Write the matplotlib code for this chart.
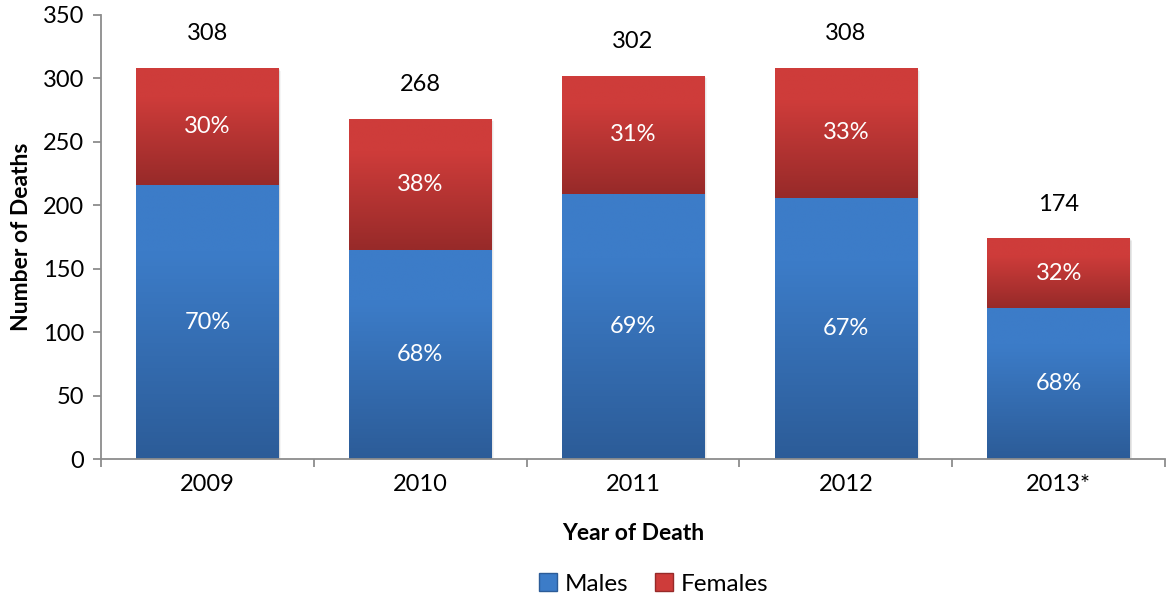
import matplotlib.pyplot as plt
import matplotlib.colors as mcolors
from matplotlib.patches import Patch
import numpy as np

plt.rcParams['font.family'] = ['Lato', 'DejaVu Sans']

# data
years = ['2009', '2010', '2011', '2012', '2013*']
totals = [308, 268, 302, 308, 174]
males = [216, 165, 209, 206, 119]
females = [t - m for t, m in zip(totals, males)]
male_pct = ['70%', '68%', '69%', '67%', '68%']
female_pct = ['30%', '38%', '31%', '33%', '32%']

blue_top, blue_bot = '#3C7CC8', '#2C5C98'
red_top, red_bot = '#CE3C3A', '#972A29'
fs = 17


def gradient(top, bot, n=100):
    t = np.array(mcolors.to_rgb(top))
    b = np.array(mcolors.to_rgb(bot))
    s = np.linspace(0, 1, n)
    # flat at the top, then darker toward the bottom
    w = np.clip((s - 0.25) / 0.75, 0, 1)
    return np.array([[t * (1 - k) + b * k] for k in w])


fig = plt.figure(figsize=(11.67, 5.97), dpi=100)
ax = fig.add_axes([0.0866, 0.231, 0.9117, 0.744])

x = np.arange(len(years))
width = 0.67
bm = ax.bar(x, males, width, color='none', label='Males')
bf = ax.bar(x, females, width, bottom=males, color='none', label='Females')

for bars, top, bot in [(bm, blue_top, blue_bot), (bf, red_top, red_bot)]:
    for b in bars:
        x0, y0 = b.get_x(), b.get_y()
        w, h = b.get_width(), b.get_height()
        # soft shadow
        for k, a in enumerate([0.06, 0.05, 0.04]):
            ax.add_patch(plt.Rectangle((x0 + 0.004 * (k + 1), y0 - 0.6 * (k + 1)), w, h,
                                       facecolor='black', alpha=a, edgecolor='none', zorder=1))
        im = ax.imshow(gradient(top, bot), extent=(x0, x0 + w, y0, y0 + h),
                       aspect='auto', zorder=2, interpolation='bilinear')
        im.set_clip_path(b)

for i in range(len(years)):
    ax.text(x[i], males[i] / 2, male_pct[i], ha='center', va='center',
            color='white', fontsize=fs, zorder=3)
    ax.text(x[i], males[i] + females[i] / 2, female_pct[i], ha='center', va='center',
            color='white', fontsize=fs, zorder=3)
    ax.text(x[i], totals[i] + 27, str(totals[i]), ha='center', va='center',
            color='black', fontsize=fs, zorder=3)

ax.set_xlim(-0.5, 4.5)
ax.set_ylim(0, 350)
ax.set_yticks(np.arange(0, 351, 50))
ax.set_xticks(x)
ax.set_xticklabels(years)
ax.set_xticks(np.arange(-0.5, 4.6, 1), minor=True)
ax.tick_params(axis='x', which='major', length=0, pad=11, labelsize=fs)
ax.tick_params(axis='x', which='minor', length=6, color='#8C8C8C', width=1.3)
ax.tick_params(axis='y', length=6, color='#8C8C8C', width=1.3, labelsize=fs, pad=6)

for s in ['top', 'right']:
    ax.spines[s].set_visible(False)
for s in ['left', 'bottom']:
    ax.spines[s].set_color('#8C8C8C')
    ax.spines[s].set_linewidth(1.3)

ax.set_xlabel('Year of Death', fontsize=16.5, fontweight='bold', labelpad=20)
ax.set_ylabel('Number of Deaths', fontsize=16.5, fontweight='bold', labelpad=8)

handles = [Patch(facecolor=blue_top, edgecolor=blue_bot), Patch(facecolor=red_top, edgecolor=red_bot)]
fig.legend(handles, ['Males', 'Females'], loc='center', bbox_to_anchor=(0.56, 0.022),
           ncol=2, frameon=False, fontsize=17.5, handlelength=0.75, handleheight=0.75,
           handletextpad=0.3, columnspacing=1.1)

plt.savefig('out.png', dpi=100)
